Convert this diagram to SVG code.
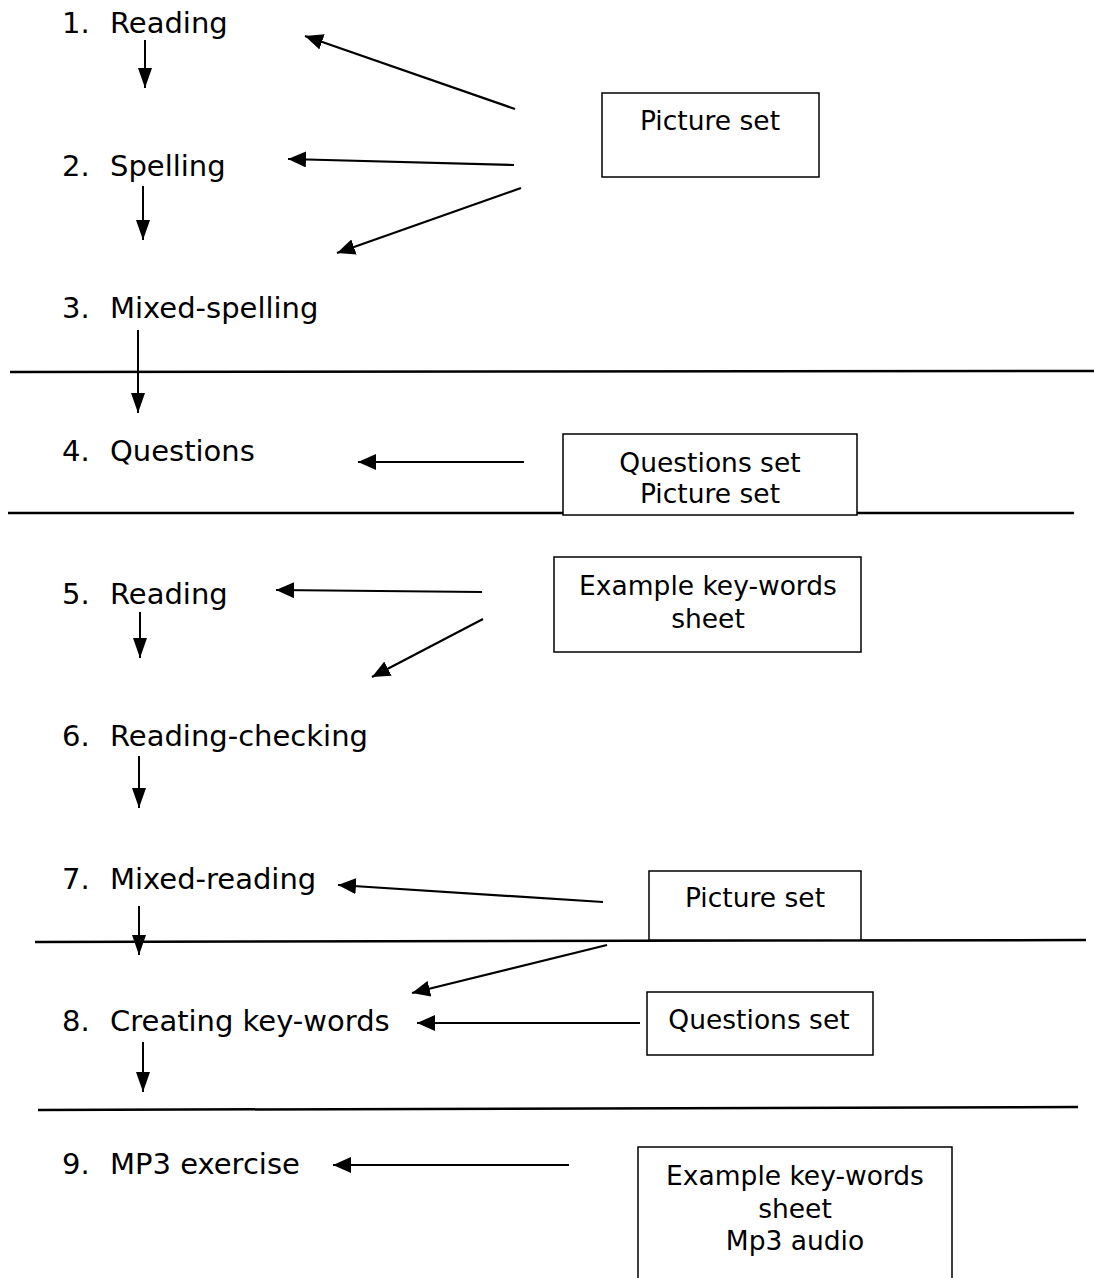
<svg xmlns="http://www.w3.org/2000/svg" width="1094" height="1278" viewBox="0 0 1094 1278">
<style>
.item{font-family:"DejaVu Sans",Verdana,sans-serif;font-size:29px;fill:#000}
.bt{font-family:"DejaVu Sans",Verdana,sans-serif;font-size:26.5px;fill:#000;text-anchor:middle}
.box{fill:#fff;stroke:#000;stroke-width:1.5}
.c{stroke:#000;stroke-width:2.2;fill:none;marker-end:url(#ah)}
.d{stroke:#000;stroke-width:2;fill:none;marker-end:url(#dh)}
.sep{stroke:#000;stroke-width:2.5;fill:none}
</style>
<defs>
<marker id="ah" markerUnits="userSpaceOnUse" markerWidth="19" markerHeight="16" refX="18" refY="8" orient="auto"><path d="M0,0 L18,8 L0,16 z" fill="#000"/></marker>
<marker id="dh" markerUnits="userSpaceOnUse" markerWidth="20" markerHeight="14" refX="20" refY="7" orient="auto"><path d="M0,0 L20,7 L0,14 z" fill="#000"/></marker>
</defs>
<rect width="1094" height="1278" fill="#fff"/>
<g id="separators">
<line class="sep" x1="10" y1="372" x2="1094" y2="371"/>
<line class="sep" x1="8" y1="513" x2="1074" y2="513"/>
<line class="sep" x1="35" y1="942" x2="1086" y2="940"/>
<line class="sep" x1="38" y1="1110" x2="1078" y2="1107"/>
</g>
<g id="step1"><text class="item" x="62" y="33">1.</text><text class="item" x="110" y="33">Reading</text></g>
<g id="step2"><text class="item" x="62" y="176">2.</text><text class="item" x="110" y="176">Spelling</text></g>
<g id="step3"><text class="item" x="62" y="318">3.</text><text class="item" x="110" y="318">Mixed-spelling</text></g>
<g id="step4"><text class="item" x="62" y="461">4.</text><text class="item" x="110" y="461">Questions</text></g>
<g id="step5"><text class="item" x="62" y="604">5.</text><text class="item" x="110" y="604">Reading</text></g>
<g id="step6"><text class="item" x="62" y="746">6.</text><text class="item" x="110" y="746">Reading-checking</text></g>
<g id="step7"><text class="item" x="62" y="889">7.</text><text class="item" x="110" y="889">Mixed-reading</text></g>
<g id="step8"><text class="item" x="62" y="1031">8.</text><text class="item" x="110" y="1031">Creating key-words</text></g>
<g id="step9"><text class="item" x="62" y="1174">9.</text><text class="item" x="110" y="1174">MP3 exercise</text></g>
<g id="boxA"><rect class="box" x="602" y="93" width="217" height="84"/><text class="bt" x="710" y="130">Picture set</text></g>
<g id="boxB"><rect class="box" x="563" y="434" width="294" height="81"/><text class="bt" x="710" y="472">Questions set</text><text class="bt" x="710" y="503">Picture set</text></g>
<g id="boxC"><rect class="box" x="554" y="557" width="307" height="95"/><text class="bt" x="708" y="595">Example key-words</text><text class="bt" x="708" y="628">sheet</text></g>
<g id="boxD"><rect class="box" x="649" y="871" width="212" height="69"/><text class="bt" x="755" y="907">Picture set</text></g>
<g id="boxE"><rect class="box" x="647" y="992" width="226" height="63"/><text class="bt" x="759" y="1029">Questions set</text></g>
<g id="boxF"><path class="box" d="M638,1279 V1147 H952 V1279"/><text class="bt" x="795" y="1185">Example key-words</text><text class="bt" x="795" y="1218">sheet</text><text class="bt" x="795" y="1250">Mp3 audio</text></g>
<g id="connectors">
<line class="d" x1="145" y1="40" x2="145" y2="88"/>
<line class="d" x1="143" y1="186" x2="143" y2="240"/>
<line class="d" x1="138" y1="330" x2="138" y2="413"/>
<line class="d" x1="140" y1="612" x2="140" y2="658"/>
<line class="d" x1="139" y1="756" x2="139" y2="808"/>
<line class="d" x1="139" y1="906" x2="139" y2="955"/>
<line class="d" x1="143" y1="1042" x2="143" y2="1092"/>
<line class="c" x1="515" y1="109" x2="305" y2="36"/>
<line class="c" x1="514" y1="165" x2="288" y2="159"/>
<line class="c" x1="521" y1="188" x2="337" y2="253"/>
<line class="c" x1="524" y1="462" x2="358" y2="462"/>
<line class="c" x1="482" y1="592" x2="276" y2="590"/>
<line class="c" x1="483" y1="619" x2="372" y2="677"/>
<line class="c" x1="603" y1="902" x2="338" y2="885"/>
<line class="c" x1="607" y1="945" x2="412" y2="993"/>
<line class="c" x1="640" y1="1023" x2="417" y2="1023"/>
<line class="c" x1="569" y1="1165" x2="333" y2="1165"/>
</g>
</svg>
